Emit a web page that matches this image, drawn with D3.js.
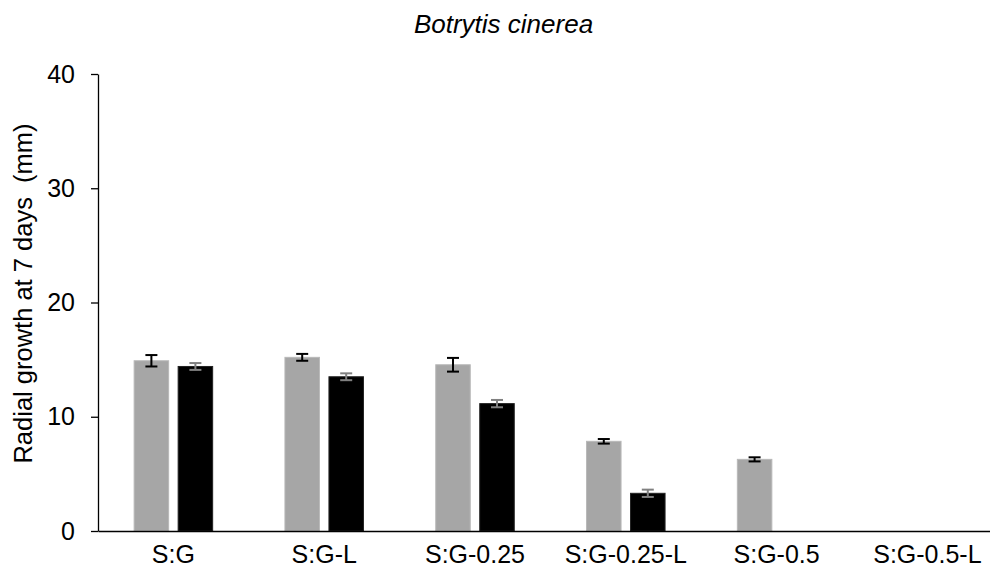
<!DOCTYPE html>
<html><head><meta charset="utf-8">
<script src="https://cdn.jsdelivr.net/npm/d3@7"></script>
<style>
html,body{margin:0;padding:0;background:#fff;}
text{font-family:Arial,"Liberation Sans",sans-serif;fill:#000;}
</style></head>
<body><svg id="c" width="990" height="574"></svg>
<script>
const categories = ["S:G","S:G-L","S:G-0.25","S:G-0.25-L","S:G-0.5","S:G-0.5-L"];
const seriesNames = ["dark","light"];
const grayValues = [14.9, 15.2, 14.55, 7.85, 6.27, 0];
const grayErrors = [0.5, 0.3, 0.6, 0.2, 0.18, 0];
const blackValues = [14.4, 13.5, 11.15, 3.3, 0, 0];
const blackErrors = [0.3, 0.3, 0.32, 0.32, 0, 0];
const yTicks = [0, 10, 20, 30, 40];
const titleText = "Botrytis cinerea";
const yTitle = "Radial growth at 7 days  (mm)";

const svg = d3.select("#c");
const mLeft = 98, mBottom = 531, mTop = 74;
const step = 150.8;
const x0 = d3.scaleBand().domain(categories).range([mLeft, mLeft + step*categories.length]).padding(0);
const x1 = d3.scaleBand().domain(seriesNames).range([0, x0.bandwidth()]).paddingInner(0.193).paddingOuter(0.81);
const y = d3.scaleLinear().domain([0, 40]).range([mBottom, mTop]);

const rows = categories.map((c,i)=>[
  {cat:c, s:"dark", v:grayValues[i], e:grayErrors[i], fill:"#a6a6a6", stroke:"#b8b8b8", ec:"#000"},
  {cat:c, s:"light", v:blackValues[i], e:blackErrors[i], fill:"#000", stroke:"#222", ec:"#808080"}
]).flat();

svg.append("g").selectAll("rect").data(rows.filter(d=>d.v>0)).join("rect")
  .attr("x", d=>x0(d.cat)+x1(d.s)+0.5)
  .attr("y", d=>y(d.v))
  .attr("width", x1.bandwidth()-1)
  .attr("height", d=>y(0)-y(d.v))
  .attr("fill", d=>d.fill)
  .attr("stroke", d=>d.stroke).attr("stroke-width",1);

const eg = svg.append("g").selectAll("g").data(rows.filter(d=>d.v>0)).join("g")
  .attr("stroke", d=>d.ec).attr("stroke-width", 2);
const cx = d=>x0(d.cat)+x1(d.s)+x1.bandwidth()/2;
eg.append("line").attr("x1",cx).attr("x2",cx).attr("y1",d=>y(d.v+d.e)).attr("y2",d=>y(d.v-d.e));
eg.append("line").attr("x1",d=>cx(d)-6).attr("x2",d=>cx(d)+6).attr("y1",d=>y(d.v+d.e)).attr("y2",d=>y(d.v+d.e));
eg.append("line").attr("x1",d=>cx(d)-6).attr("x2",d=>cx(d)+6).attr("y1",d=>y(d.v-d.e)).attr("y2",d=>y(d.v-d.e));

// y axis
const ya = svg.append("g").attr("transform",`translate(${mLeft},0)`)
  .call(d3.axisLeft(y).tickValues(yTicks).tickSize(7).tickSizeOuter(0).tickPadding(16));
ya.select(".domain").attr("stroke","#000").attr("stroke-width",1.3);
ya.selectAll(".tick line").attr("stroke","#000").attr("stroke-width",1.3);
ya.selectAll(".tick text").attr("font-size",25).attr("font-family","Arial, 'Liberation Sans', sans-serif").attr("fill","#000");

// x axis
const xa = svg.append("g").attr("transform",`translate(0,${mBottom})`)
  .call(d3.axisBottom(x0).tickSize(0).tickPadding(14));
xa.select(".domain").attr("stroke","#000").attr("stroke-width",1.3);
xa.selectAll(".tick text").attr("font-size",25).attr("font-family","Arial, 'Liberation Sans', sans-serif").attr("fill","#000");

svg.append("text").attr("x",503.5).attr("y",33).attr("text-anchor","middle")
  .attr("font-size",26).attr("font-style","italic").text(titleText);
svg.append("text").attr("transform","translate(32,293.5) rotate(-90)").attr("text-anchor","middle")
  .style("white-space","pre").attr("font-size",25.5).text(yTitle);
</script></body></html>
